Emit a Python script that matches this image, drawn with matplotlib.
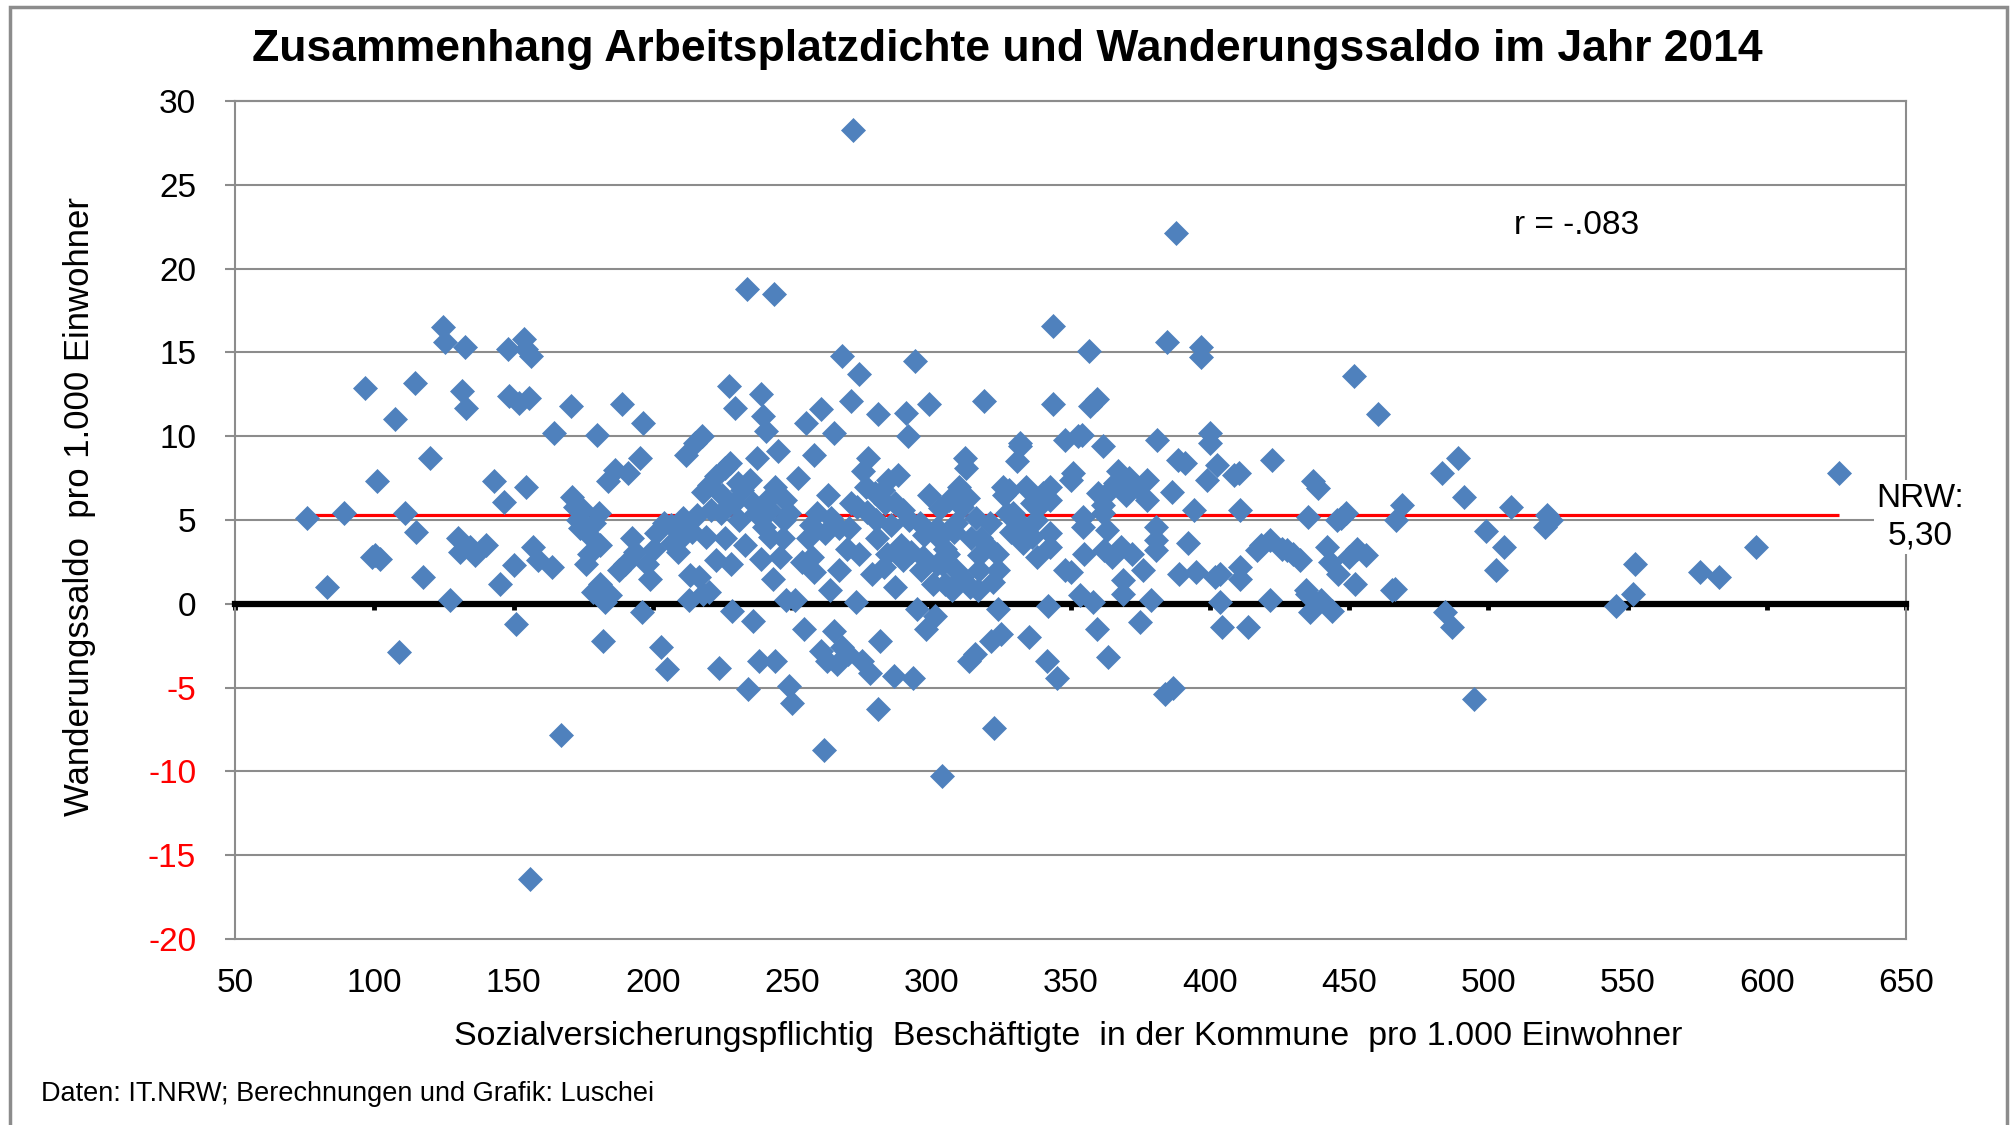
import matplotlib
matplotlib.use("Agg")
import matplotlib.pyplot as plt
from matplotlib.patches import Rectangle

plt.rcParams["font.family"] = ["Liberation Sans", "DejaVu Sans"]

# --- Werte (x: Beschaeftigte je 1.000 EW, y: Wanderungssaldo je 1.000 EW) ---
beschaeftigte = [
    # 70-150
    76, 83, 89, 96.5, 99, 100.3, 101, 102, 107.5, 109, 111, 114.5, 115, 117.5, 120,
    124.6, 125.5, 127, 130, 130.6, 131.5, 132.4, 133, 136, 140, 143, 145, 146.7, 148, 148.5,
    150, 151, 134.5,
    # 150-200
    152, 153.6, 154.5, 154.5, 155.4, 156, 156.4, 157, 158.8, 163.7,
    164.6, 167, 170.6, 171, 172, 173, 174, 175, 176, 177,
    178, 178.5, 179, 180, 180.8, 181, 181, 182, 183, 184,
    184.5, 186.5, 188, 189, 190, 191, 192.7, 193.6, 195.4, 196,
    196.5, 198, 199,
    # 200-250
    200.5, 201, 203, 204, 205, 206.5, 209, 210, 211, 212,
    213, 213.4, 214, 215, 216.7, 217.7, 218, 218, 220, 220,
    221, 222.6, 222.6, 223.6, 224.5, 225, 226, 226, 227.4, 227.7,
    228, 228.5, 229.5, 230.5, 232, 233.7, 234, 235, 236, 237.4,
    237, 238, 238.8, 239.7, 240, 240.6, 241, 242, 243, 243.4,
    244, 244, 245, 245.5, 246.6, 247.5, 248, 249, 249, 250,
    207, 216, 219, 229, 231, 233, 236, 239, 242, 247,
    # 250-300
    251, 252, 253.5, 254.4, 255, 255.8, 256.7, 257, 258, 258,
    259, 260.4, 260.4, 261.3, 262, 262.7, 263.6, 264, 265, 265,
    266, 267, 268, 268, 269.6, 270, 270.5, 271, 272, 272.8,
    273.3, 274, 275, 275.6, 276.5, 277.4, 278, 278.8, 279.7, 280.6,
    281, 281, 281.6, 282.5, 283, 283.4, 284.3, 285.7, 286.6, 287,
    288, 289, 290, 290, 290.8, 291.7, 292.6, 293.5, 294, 295,
    296, 296.3, 297.2, 298, 299, 299,
    263, 267, 271, 274, 277, 280, 284, 287, 292, 297,
    # 300-340
    300.5, 301.4, 302, 302.8, 303, 303.7, 304, 305, 306, 306.4,
    307.4, 308, 308.3, 308.7, 310, 311, 312, 312.4, 313, 313.4,
    314.3, 315.6, 316, 316.6, 318, 319, 317, 320, 321.6, 322,
    322.6, 323.5, 324, 325, 325.8, 326, 327, 328.5, 329.5, 330.8,
    331.8, 331.9, 332.7, 334, 335, 336, 336, 337.7, 338, 339.6, 340,
    302, 305, 309, 311, 314, 317, 321, 324, 328, 333,
    # 340-480
    341.5, 342, 342.6, 342.6, 342.6, 342.6, 343.7, 343.7, 345, 348,
    348, 350, 350, 351, 352.5, 353.4, 354, 354.5, 354.5, 355,
    356.7, 357, 358, 359.4, 359.5, 360, 361.7, 361.7, 361.7, 362,
    363, 363.5, 364, 365, 366, 367, 368, 369, 369, 370,
    371, 372, 374, 375, 377.5, 377.5, 379, 380.7, 380.7, 380.7,
    381, 376, 384, 384.6, 386.4, 386.8, 388, 388.6, 389, 391,
    392, 394.4, 395, 397, 397, 399, 400, 400, 401.7, 402.6,
    403.7, 403.7, 404.4, 408.7, 410.5, 411, 411, 411, 413.7, 417,
    418.3, 421.6, 421.6, 422.4, 426, 427.7, 430, 432.4, 434.4, 435,
    435.3, 436, 437, 438.9, 440, 442, 443, 444, 445.7, 446,
    447, 449, 450, 451.8, 452, 453, 456, 460.4, 465.3, 466.5,
    467, 469,
    # 480-650
    483.4, 484.6, 487, 489, 491.3, 495, 499, 502.8, 505.8, 508,
    520.5, 521, 522.4, 546, 552, 552.6, 576, 583, 596, 626,
]

wanderungssaldo = [
    # 70-150
    5.1, 1.0, 5.4, 12.9, 2.8, 2.9, 7.3, 2.7, 11.0, -2.9, 5.4, 13.2, 4.3, 1.6, 8.7,
    16.5, 15.6, 0.2, 3.9, 3.1, 12.7, 15.3, 11.7, 2.9, 3.5, 7.3, 1.2, 6.1, 15.2, 12.4,
    2.3, -1.2, 3.4,
    # 150-200
    12.0, 15.8, 15.2, 7.0, 12.3, -16.4, 14.8, 3.4, 2.6, 2.2,
    10.2, -7.8, 11.8, 6.4, 5.8, 5.0, 4.5, 5.6, 2.4, 3.0,
    3.9, 0.7, 4.8, 10.1, 5.4, 3.5, 1.2, -2.2, 0.1, 7.3,
    0.5, 8.0, 2.0, 11.9, 2.4, 7.8, 3.9, 3.1, 8.7, -0.5,
    10.8, 2.4, 1.5,
    # 200-250
    3.3, 4.2, -2.6, 4.8, -3.9, 4.7, 3.1, 3.9, 5.1, 8.9,
    0.2, 1.7, 4.3, 9.6, 1.6, 10.0, 6.7, 0.6, 0.7, 7.1,
    5.6, 2.6, 7.6, -3.8, 5.4, 6.5, 3.9, 8.1, 13.0, 8.4,
    2.4, -0.4, 11.7, 7.2, 6.8, 18.8, -5.1, 7.4, -1.0, 8.7,
    5.4, -3.4, 12.5, 11.2, 4.6, 10.3, 6.2, 5.6, 1.5, 18.5,
    -3.4, 7.0, 9.1, 2.8, 3.9, 6.2, 0.2, 5.4, -4.9, -5.9,
    3.6, 5.3, 4.0, 6.0, 5.0, 3.5, 6.0, 2.7, 4.0, 5.0,
    # 250-300
    0.2, 7.5, 2.5, -1.5, 10.8, 3.9, 4.7, 2.8, 8.9, 1.9,
    5.4, 11.6, -2.8, -8.7, 4.2, -3.4, 0.8, 5.1, 10.2, -1.6,
    -3.6, 2.0, 14.8, -2.6, 3.3, -3.0, 4.5, 12.1, 28.3, 0.1,
    5.8, 13.7, -3.4, 7.9, 7.0, 8.7, -4.1, 1.8, 6.6, 3.9,
    11.3, -6.3, -2.2, 6.8, 2.2, 6.0, 7.4, 4.7, -4.3, 1.0,
    7.7, 3.5, 5.6, 2.6, 11.4, 10.0, 3.1, -4.4, 14.5, -0.3,
    4.8, 2.0, 4.1, -1.5, 11.9, 6.5,
    6.5, 4.5, 6.0, 3.0, 5.5, 5.0, 3.0, 6.0, 5.0, 2.8,
    # 300-340
    1.2, -0.7, 2.4, 3.9, 5.7, 2.4, -10.3, 1.2, 3.0, 6.2,
    0.8, 6.3, 4.3, 4.8, 7.0, 1.6, 8.7, 8.1, 6.3, -3.4,
    3.9, -3.0, 5.1, 0.8, 3.9, 12.1, 2.0, 3.5, -2.2, 1.3,
    -7.4, 3.0, -0.3, -1.8, 7.0, 6.5, 5.4, 4.3, 5.4, 8.5,
    9.4, 9.6, 4.7, 7.0, -2.0, 6.0, 4.0, 5.0, 2.8, 6.0, 6.6,
    4.5, 3.3, 2.0, 5.8, 1.0, 2.9, 4.8, 2.0, 6.8, 3.6,
    # 340-480
    -3.4, -0.1, 7.0, 6.2, 4.2, 3.4, 16.6, 11.9, -4.4, 9.8,
    2.0, 7.4, 1.9, 7.8, 10.0, 0.5, 10.1, 5.2, 4.6, 3.0,
    15.1, 11.8, 0.1, 12.2, -1.5, 6.6, 9.4, 5.9, 5.4, 3.2,
    4.4, -3.2, 6.8, 2.8, 7.2, 7.9, 3.4, 1.4, 0.6, 6.5,
    7.5, 3.0, 7.0, -1.1, 7.4, 6.2, 0.2, 4.6, 3.8, 3.2,
    9.8, 2.0, -5.4, 15.6, 6.7, -5.0, 22.1, 8.6, 1.8, 8.4,
    3.6, 5.6, 1.9, 15.3, 14.7, 7.4, 10.2, 9.6, 1.6, 8.3,
    1.8, 0.1, -1.4, 7.7, 7.8, 5.6, 2.2, 1.5, -1.4, 3.2,
    3.5, 3.8, 0.2, 8.6, 3.3, 3.2, 3.0, 2.6, 0.8, 0.6,
    5.2, -0.5, 7.3, 6.9, 0.2, 3.4, 2.5, -0.4, 5.0, 1.8,
    5.1, 5.4, 2.8, 13.6, 1.2, 3.3, 2.9, 11.3, 0.8, 0.9,
    5.0, 5.9,
    # 480-650
    7.8, -0.5, -1.4, 8.7, 6.4, -5.7, 4.35, 2.0, 3.4, 5.8,
    4.6, 5.3, 5.0, -0.1, 0.6, 2.4, 1.9, 1.6, 3.4, 7.8,
]

nrw_saldo = 5.30
nrw_label = "NRW:\n5,30"
r_label = "r = -.083"
x_ticks = [50, 100, 150, 200, 250, 300, 350, 400, 450, 500, 550, 600, 650]
y_ticks = [-20, -15, -10, -5, 0, 5, 10, 15, 20, 25, 30]

titel = "Zusammenhang Arbeitsplatzdichte und Wanderungssaldo im Jahr 2014"
x_titel = "Sozialversicherungspflichtig  Beschäftigte  in der Kommune  pro 1.000 Einwohner"
y_titel = "Wanderungssaldo  pro 1.000 Einwohner"
quelle = "Daten: IT.NRW; Berechnungen und Grafik: Luschei"

GRAU = "#8c8c8c"
BLAU = "#4F81BD"

fig = plt.figure(figsize=(20.11, 11.25), dpi=100)
ax = fig.add_axes([0.1169, 0.1653, 0.8309, 0.7449])

ax.set_xlim(50, 650)
ax.set_ylim(-20, 30)

# Punkte und NRW-Mittelwert
ax.hlines(nrw_saldo, min(beschaeftigte), max(beschaeftigte), colors="#FF0000", lw=2.3, zorder=3)
ax.plot(beschaeftigte, wanderungssaldo, linestyle="none", marker="D", ms=12.5,
        color=BLAU, mec=BLAU, mew=0.5, zorder=4)

# Gitter
ax.set_yticks(y_ticks)
ax.set_yticklabels([str(v) for v in y_ticks])
ax.yaxis.grid(True, color=GRAU, lw=1.5)
ax.set_axisbelow(True)
for gl in ax.get_ygridlines():
    gl.set_clip_on(False)

ax.tick_params(axis="y", direction="out", length=7, width=1.5, color=GRAU,
               labelsize=24, pad=21)
for lab, v in zip(ax.get_yticklabels(), y_ticks):
    lab.set_color("#FF0000" if v < 0 else "black")

for s in ["left", "right", "top"]:
    ax.spines[s].set_color(GRAU)
    ax.spines[s].set_linewidth(1.5)

# x-Achse bei 0 (dick schwarz), Beschriftung unten
ax.spines["bottom"].set_position(("data", 0))
ax.spines["bottom"].set_color("black")
ax.spines["bottom"].set_linewidth(4.5)
ax.set_xticks(x_ticks)
ax.tick_params(axis="x", direction="out", length=4, width=3.5, color="black", labelbottom=False)

sec = ax.secondary_xaxis("bottom")
sec.set_xticks(x_ticks)
sec.set_xticklabels([str(v) for v in x_ticks])
sec.tick_params(length=0, labelsize=24, pad=21)
sec.spines["bottom"].set_visible(False)

# Texte
ax.text(0.803, 0.851, r_label, transform=ax.transAxes, fontsize=24,
        ha="center", va="center")
ax.text(1.0084, 0.5036, nrw_label, transform=ax.transAxes, fontsize=24,
        ha="center", va="center", linespacing=1.25, zorder=5,
        bbox=dict(facecolor="white", edgecolor="none", pad=2))

fig.text(1007 / 2011, 1 - 49 / 1125, titel, fontsize=32, fontweight="bold",
         ha="center", va="center")
fig.text(1068 / 2011, 1 - 1036 / 1125, x_titel, fontsize=24.5, ha="center", va="center")
fig.text(80 / 2011, 1 - 507 / 1125, y_titel, fontsize=25, rotation=90,
         ha="center", va="center")
fig.text(41 / 2011, 1 - 1094 / 1125, quelle, fontsize=19.5, ha="left", va="center")

# Rahmen um die ganze Grafik
fig.add_artist(Rectangle((10 / 2011, -0.02), 1997 / 2011, 1.02 - 7 / 1125,
                         transform=fig.transFigure, fill=False, ec=GRAU, lw=2.5))

fig.savefig("out.png", dpi=100)
